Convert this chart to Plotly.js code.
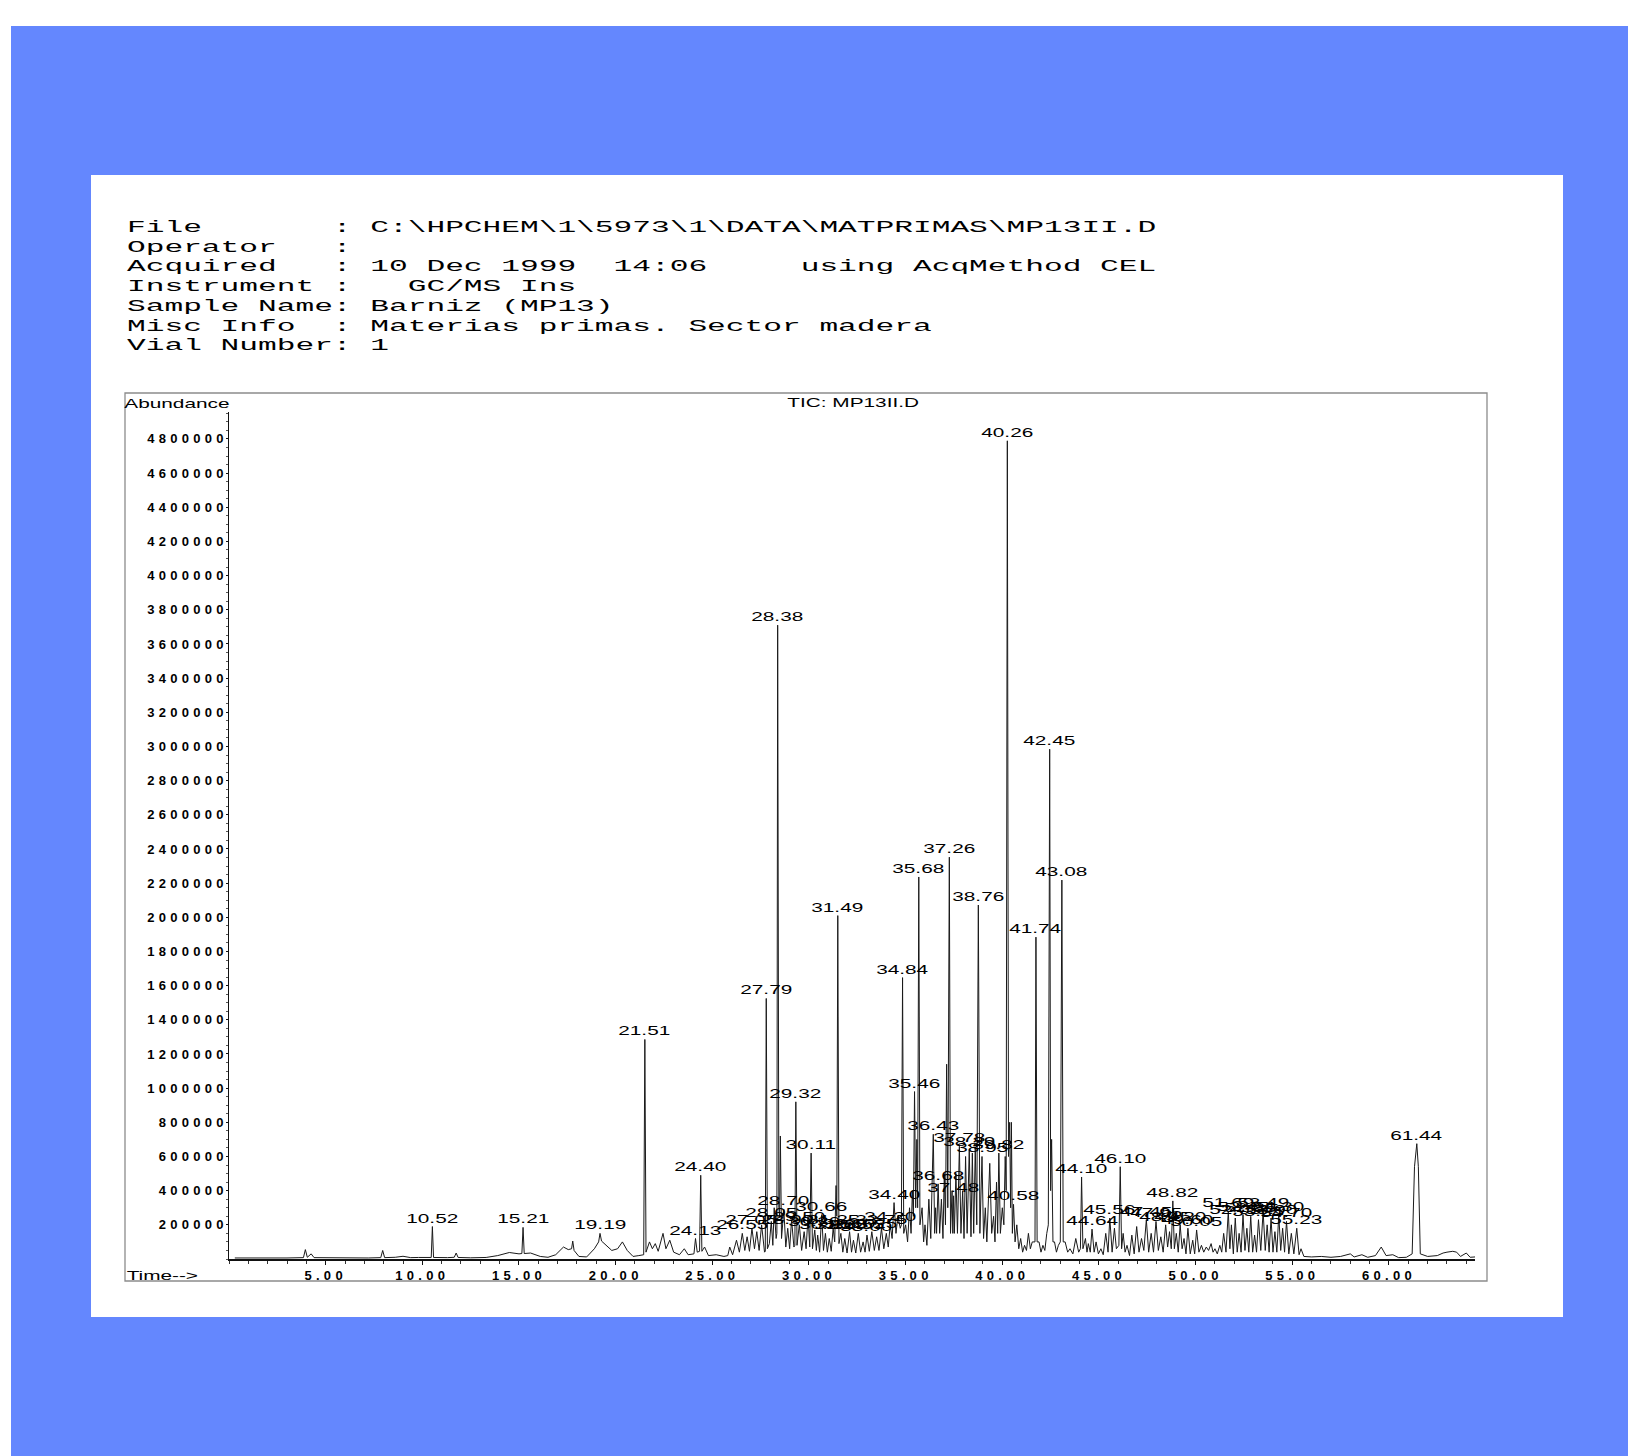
<!DOCTYPE html>
<html>
<head>
<meta charset="utf-8">
<script src="https://cdn.plot.ly/plotly-3.0.1.min.js"></script>
<style>
  html, body { margin:0; padding:0; background:#fff; }
  #chart { width:1628px; height:1456px; }
  .xtick text, .ytick text { letter-spacing: 4.3px; }
  g.annotation text.annotation-text {
    transform: scaleX(1.6);
    transform-box: fill-box;
    transform-origin: 50% 50%;
  }
  g.annotation[data-index="0"] text.annotation-text, g.annotation[data-index="1"] text.annotation-text,
  g.annotation[data-index="2"] text.annotation-text, g.annotation[data-index="3"] text.annotation-text,
  g.annotation[data-index="4"] text.annotation-text, g.annotation[data-index="5"] text.annotation-text,
  g.annotation[data-index="6"] text.annotation-text {
    transform: scaleX(1.95);
    transform-origin: 0% 50%;
  }
</style>
</head>
<body>
<div id="chart"></div>
<script>
// ---------- header text ----------
const headerLines = [
  "File       : C:\\HPCHEM\\1\\5973\\1\\DATA\\MATPRIMAS\\MP13II.D",
  "Operator   :",
  "Acquired   : 10 Dec 1999  14:06     using AcqMethod CEL",
  "Instrument :   GC/MS Ins",
  "Sample Name: Barniz (MP13)",
  "Misc Info  : Materias primas. Sector madera",
  "Vial Number: 1"
];
const chartTitle = "TIC: MP13II.D";
const yLabel = "Abundance";
const xLabel = "Time-->";

// ---------- axis ticks ----------
const xTickVals = [5,10,15,20,25,30,35,40,45,50,55,60];
const xTickText = ["5.00","10.00","15.00","20.00","25.00","30.00","35.00","40.00","45.00","50.00","55.00","60.00"];
const yTickVals = [200000,400000,600000,800000,1000000,1200000,1400000,1600000,1800000,2000000,2200000,2400000,
                   2600000,2800000,3000000,3200000,3400000,3600000,3800000,4000000,4200000,4400000,4600000,4800000];
const yTickText = ["200000","400000","600000","800000","1000000","1200000","1400000","1600000","1800000","2000000",
                   "2200000","2400000","2600000","2800000","3000000","3200000","3400000","3600000","3800000","4000000",
                   "4200000","4400000","4600000","4800000"];

// ---------- TIC trace [time (min), abundance] ----------
const ticEarly = [[0.30,6000],[1.50,5000],[3.00,6000],[3.85,8000],[3.95,55000],[4.05,10000],[4.25,30000],[4.40,8000],
[5.50,6000],[6.50,7000],[7.20,6000],[7.85,8000],[7.95,50000],[8.05,8000],[8.60,10000],[9.00,16000],[9.40,8000],[9.80,9000],
[10.46,9000],[10.52,190000],[10.58,9000],[11.30,8000],[11.65,10000],[11.75,35000],[11.85,9000],[12.50,7000],[13.30,9000],
[13.90,20000],[14.50,38000],[15.00,30000],[15.15,32000],[15.21,185000],[15.27,32000],[15.60,35000],[16.10,15000],[16.50,10000],
[16.90,25000],[17.30,70000],[17.55,55000],[17.72,60000],[17.78,105000],[17.85,50000],[18.10,15000],[18.50,12000],[18.90,60000],
[19.12,100000],[19.19,150000],[19.27,105000],[19.50,80000],[19.80,50000],[20.10,60000],[20.35,100000],[20.60,50000],[20.90,15000],
[21.20,20000],[21.45,25000],[21.51,1285000],[21.57,40000],[21.75,100000],[21.90,60000],[22.05,90000],[22.20,45000],[22.45,150000],
[22.60,60000],[22.80,110000],[23.00,40000],[23.30,25000],[23.55,60000],[23.75,25000],[24.05,30000],[24.13,120000],[24.22,40000],
[24.34,45000],[24.40,490000],[24.46,45000],[24.60,70000],[24.80,20000],[25.20,25000]];

const ticMid = [[25.60,15000],[25.80,20000],[25.90,70000],[26.05,25000],[26.25,110000],[26.40,40000],[26.55,150000],[26.68,50000],
[26.80,130000],[26.92,45000],[27.05,180000],[27.18,60000],[27.30,160000],[27.42,50000],[27.55,200000],[27.70,40000],[27.74,45000],
[27.79,1525000],[27.85,60000],[27.95,90000],[28.05,220000],[28.13,80000],[28.20,300000],[28.30,120000],[28.34,150000],[28.38,3710000],
[28.44,300000],[28.48,250000],[28.52,720000],[28.58,120000],[28.70,290000],[28.80,70000],[28.90,180000],[29.00,60000],[29.10,230000],
[29.22,70000],[29.27,80000],[29.32,920000],[29.38,80000],[29.50,200000],[29.62,50000],[29.75,160000],[29.85,60000],[29.95,250000],
[30.04,70000],[30.11,620000],[30.18,60000],[30.30,170000],[30.38,50000],[30.45,140000],[30.55,40000],[30.66,260000],[30.75,50000],
[30.85,150000],[30.95,40000],[31.05,120000],[31.15,45000],[31.25,180000],[31.33,100000],[31.40,430000],[31.44,250000],[31.49,2010000],
[31.55,90000],[31.65,150000],[31.75,40000],[31.85,120000],[31.97,35000],[32.10,160000],[32.20,40000],[32.30,110000],[32.42,35000],
[32.55,150000],[32.67,40000],[32.80,100000],[32.90,40000],[33.00,140000],[33.12,45000],[33.25,160000],[33.38,50000],[33.50,130000],
[33.62,50000],[33.75,180000],[33.87,60000],[34.00,150000],[34.10,70000],[34.20,200000],[34.30,120000],[34.40,330000],[34.50,150000],
[34.60,250000],[34.72,180000],[34.78,200000],[34.84,1647000],[34.90,150000],[35.00,200000],[35.10,100000],[35.20,300000],[35.28,150000],
[35.35,400000],[35.40,250000],[35.46,980000],[35.52,300000],[35.58,700000],[35.62,300000],[35.68,2236000],[35.74,200000],[35.85,300000],
[35.93,100000],[36.00,200000],[36.10,80000],[36.20,350000],[36.30,120000],[36.43,730000],[36.50,150000],[36.55,300000],[36.60,150000],
[36.68,440000],[36.76,150000],[36.85,350000],[36.93,120000],[37.00,500000],[37.06,200000],[37.12,1140000],[37.18,300000],[37.26,2352000],
[37.32,150000],[37.40,400000],[37.44,150000],[37.48,370000],[37.52,150000],[37.60,500000],[37.68,150000],[37.78,660000],[37.86,150000],
[37.95,400000],[38.02,120000],[38.10,600000],[38.18,150000],[38.29,640000],[38.38,130000],[38.45,620000],[38.52,150000],[38.60,650000],
[38.68,200000],[38.76,2072000],[38.84,150000],[38.95,600000],[39.03,120000],[39.12,300000],[39.20,100000],[39.35,560000],[39.45,150000],
[39.55,250000],[39.62,100000],[39.70,450000],[39.76,150000],[39.82,620000],[39.90,150000],[40.00,300000],[40.08,200000],[40.15,600000],
[40.20,400000],[40.26,4789000],[40.32,600000],[40.38,800000],[40.43,300000],[40.47,800000],[40.52,150000],[40.58,320000],[40.66,100000],
[40.75,200000],[40.85,60000],[40.95,120000],[41.05,40000],[41.15,80000],[41.25,50000],[41.35,150000],[41.45,60000],[41.55,100000],
[41.69,100000],[41.74,1884000],[41.80,100000],[41.90,100000],[42.00,40000],[42.10,80000],[42.20,50000],[42.30,150000],[42.38,200000],
[42.45,2984000],[42.50,400000],[42.55,700000],[42.62,100000],[42.70,100000],[42.80,40000],[42.90,80000],[43.00,100000],[43.08,2218000],
[43.15,100000],[43.25,100000],[43.38,40000],[43.50,60000],[43.65,30000],[43.80,120000],[43.95,40000],[44.04,60000],[44.10,480000],
[44.17,60000],[44.30,120000],[44.38,40000],[44.45,90000],[44.55,40000],[44.64,175000],[44.75,40000],[44.85,100000],[44.97,30000]];

const ticLate = [[45.10,60000],[45.22,25000],[45.35,150000],[45.47,40000],[45.56,240000],[45.68,40000],[45.80,180000],[45.90,60000],
[46.03,80000],[46.10,540000],[46.17,60000],[46.25,150000],[46.35,40000],[46.45,80000],[46.58,20000],[46.70,140000],[46.82,30000],
[46.95,190000],[47.07,40000],[47.20,120000],[47.32,50000],[47.45,230000],[47.57,40000],[47.70,150000],[47.82,40000],[47.95,220000],
[48.07,50000],[48.20,130000],[48.32,40000],[48.45,200000],[48.55,70000],[48.65,160000],[48.74,60000],[48.82,340000],[48.90,60000],
[49.00,150000],[49.10,40000],[49.20,200000],[49.30,60000],[49.40,120000],[49.50,30000],[49.60,180000],[49.72,30000],[49.85,110000],
[49.95,30000],[50.05,170000],[50.17,40000],[50.30,80000],[50.42,40000],[50.55,70000],[50.67,50000],[50.80,90000],[50.90,40000],
[51.00,60000],[51.12,30000],[51.25,80000],[51.35,40000],[51.45,150000],[51.57,40000],[51.69,280000],[51.77,60000],[51.85,200000],
[51.95,30000],[52.05,240000],[52.15,40000],[52.25,150000],[52.35,40000],[52.45,260000],[52.55,50000],[52.65,180000],[52.75,40000],
[52.85,250000],[52.95,40000],[53.05,140000],[53.15,40000],[53.25,230000],[53.37,50000],[53.49,280000],[53.60,50000],[53.70,200000],
[53.80,40000],[53.90,240000],[54.00,40000],[54.10,160000],[54.20,40000],[54.30,260000],[54.40,50000],[54.50,180000],[54.60,40000],
[54.70,220000],[54.82,30000],[54.95,150000],[55.08,30000],[55.23,180000],[55.35,25000],[55.45,60000],[55.60,15000],[56.00,12000],
[56.50,15000],[57.00,10000],[57.50,15000],[58.00,30000],[58.20,12000],[58.60,25000],[58.90,10000],[59.30,20000],[59.60,70000],
[59.85,20000],[60.20,25000],[60.50,8000],[60.90,10000],[61.20,30000],[61.32,540000],[61.44,675000],[61.52,540000],[61.62,30000],
[62.00,15000],[62.50,20000],[62.80,35000],[63.00,40000],[63.30,45000],[63.50,40000],[63.70,15000],[64.00,35000],[64.20,10000],[64.45,12000]];

// ---------- labelled peaks (retention time, apex abundance) ----------
const labelTimes = [10.52,15.21,19.19,21.51,24.13,24.40,26.55,27.05,27.79,28.05,28.38,28.70,28.90,29.32,29.50,30.11,30.30,30.66,
  30.85,31.25,31.49,31.65,32.10,32.55,33.00,33.25,33.75,34.20,34.40,34.84,35.46,35.68,36.43,36.68,37.26,37.48,37.78,38.29,38.76,
  38.95,39.82,40.26,40.58,41.74,42.45,43.08,44.10,44.64,45.56,46.10,47.45,47.95,48.45,48.82,49.20,49.60,50.05,51.69,52.05,52.45,
  52.85,53.25,53.49,53.90,54.30,54.70,55.23,61.44];
const labelHeights = [190000,185000,150000,1285000,120000,490000,150000,180000,1525000,220000,3710000,290000,180000,920000,200000,
  620000,170000,260000,150000,180000,2010000,150000,160000,150000,140000,160000,180000,200000,330000,1647000,980000,2236000,730000,
  440000,2352000,370000,660000,640000,2072000,600000,620000,4789000,320000,1884000,2984000,2218000,480000,175000,240000,540000,
  230000,220000,200000,340000,200000,180000,170000,280000,240000,260000,250000,230000,280000,240000,260000,220000,180000,675000];

// ---------- geometry helpers (page pixels -> paper coords) ----------
const W = 1628, H = 1456;
const L = 229, R = 153, T = 412, B = 197;
const PW = W - L - R, PH = H - T - B;
const px = v => (v - L) / PW;
const py = v => (H - B - v) / PH;

const ticAll = ticEarly.concat(ticMid, ticLate);
const tic = {
  type: 'scatter', mode: 'lines',
  x: ticAll.map(p => p[0]), y: ticAll.map(p => p[1]),
  line: { color: '#1a1a1a', width: 1 },
  hoverinfo: 'skip'
};

const annotations = [];
headerLines.forEach((s, i) => {
  annotations.push({
    xref: 'paper', yref: 'paper', x: px(125), y: py(228 + i * 19.7),
    xanchor: 'left', yanchor: 'middle', showarrow: false, align: 'left',
    text: s.replace(/ /g, '\u00A0'),
    font: { family: 'Liberation Mono, DejaVu Sans Mono, monospace', size: 16, color: '#000' }
  });
});
const smallFont = { family: 'Liberation Sans, Arial, sans-serif', size: 13, color: '#000' };
annotations.push({ xref:'paper', yref:'paper', x: px(853), y: py(402), xanchor:'center', yanchor:'middle',
  showarrow:false, text: chartTitle, font: smallFont });
annotations.push({ xref:'paper', yref:'paper', x: px(177), y: py(403), xanchor:'center', yanchor:'middle',
  showarrow:false, text: yLabel, font: smallFont });
annotations.push({ xref:'paper', yref:'paper', x: px(162), y: py(1275), xanchor:'center', yanchor:'middle',
  showarrow:false, text: xLabel, font: smallFont });
labelTimes.forEach((t, i) => {
  annotations.push({ x: t, y: labelHeights[i], xref:'x', yref:'y', xanchor:'center', yanchor:'bottom',
    showarrow:false, text: t.toFixed(2), font: smallFont, borderpad: 0 });
});

const shapes = [
  { type:'rect', xref:'paper', yref:'paper', x0: px(11), x1: px(W + 5), y0: py(26), y1: py(H + 5),
    fillcolor:'#6487fe', line:{width:0}, layer:'below' },
  { type:'rect', xref:'paper', yref:'paper', x0: px(91), x1: px(1563), y0: py(175), y1: py(1317),
    fillcolor:'#ffffff', line:{width:0}, layer:'below' },
  { type:'rect', xref:'paper', yref:'paper', x0: px(125), x1: px(1487), y0: py(393), y1: py(1281),
    fillcolor:'rgba(0,0,0,0)', line:{color:'#8c8c8c', width:1.3}, layer:'below' }
];

const tickFont = { family: 'Liberation Sans, Arial, sans-serif', size: 13, color: '#000', weight: 'bold' };
const layout = {
  width: W, height: H,
  margin: { l: L, r: R, t: T, b: B, pad: 0 },
  paper_bgcolor: '#ffffff', plot_bgcolor: 'rgba(0,0,0,0)',
  showlegend: false,
  xaxis: {
    range: [0, 64.45], showgrid: false, zeroline: false,
    showline: true, linecolor: '#111', linewidth: 1.5,
    tickmode: 'array', tickvals: xTickVals, ticktext: xTickText,
    ticks: 'outside', ticklen: 4, tickwidth: 1, tickcolor: '#111', tickfont: tickFont,
    minor: { ticks: 'outside', ticklen: 3, dtick: 1, tick0: 0, tickcolor: '#333', showgrid: false }
  },
  yaxis: {
    range: [0, 4957600], showgrid: false, zeroline: false,
    showline: true, linecolor: '#111', linewidth: 1.5,
    tickmode: 'array', tickvals: yTickVals, ticktext: yTickText,
    ticks: 'outside', ticklen: 2, tickwidth: 1, tickcolor: '#111', tickfont: tickFont,
    ticklabelstandoff: -5,
    minor: { ticks: 'outside', ticklen: 2, dtick: 50000, tick0: 0, tickcolor: '#555', showgrid: false }
  },
  shapes: shapes,
  annotations: annotations
};

Plotly.newPlot('chart', [tic], layout, { staticPlot: true, displayModeBar: false });
</script>
</body>
</html>
